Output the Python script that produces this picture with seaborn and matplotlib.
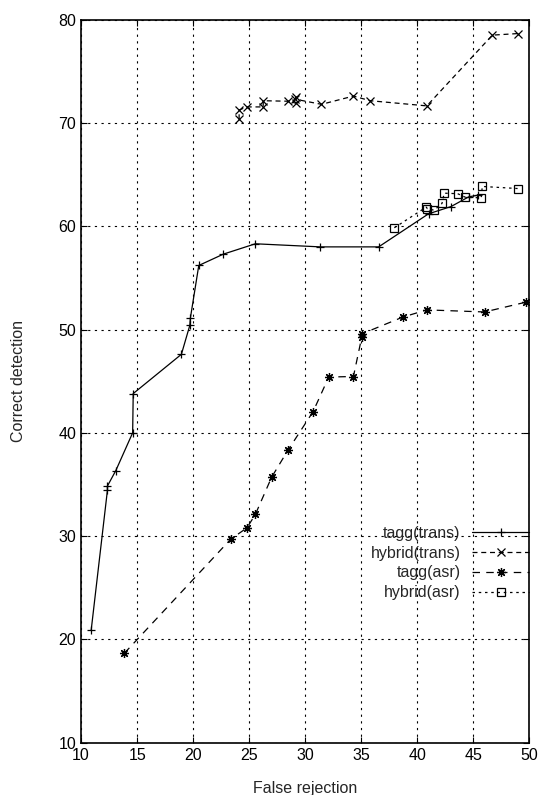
import numpy as np
import pandas as pd
import seaborn as sns
import matplotlib.pyplot as plt

sns.set_style('ticks')
plt.rcParams['font.family'] = ['Liberation Sans', 'DejaVu Sans']
plt.rcParams['font.size'] = 11.5

# data
tagg_trans_x = [10.9, 12.35, 12.35, 13.1, 14.6, 14.65, 18.95, 19.7, 19.75, 20.5, 22.7, 25.55, 31.35, 36.55, 41.0, 43.0, 44.6, 45.4]
tagg_trans_y = [20.9, 34.45, 34.85, 36.35, 40.0, 43.8, 47.6, 50.4, 51.1, 56.2, 57.3, 58.3, 58.0, 58.0, 61.2, 61.9, 62.85, 63.0]

hybrid_trans_x = [24.1, 24.1, 24.8, 26.25, 26.25, 28.5, 29.2, 29.2, 29.1, 31.45, 34.3, 35.8, 40.85, 46.7, 48.95]
hybrid_trans_y = [70.35, 71.25, 71.55, 71.55, 72.15, 72.1, 71.9, 72.5, 72.3, 71.8, 72.6, 72.15, 71.65, 78.5, 78.65]

tagg_asr_x = [13.85, 23.35, 24.8, 25.55, 27.0, 28.45, 30.7, 32.1, 34.3, 35.05, 35.1, 38.7, 40.85, 46.0, 49.7]
tagg_asr_y = [18.65, 29.7, 30.8, 32.1, 35.7, 38.3, 42.05, 45.4, 45.45, 49.3, 49.6, 51.2, 51.9, 51.7, 52.65]

hybrid_asr_x = [37.95, 40.8, 40.9, 41.5, 42.2, 42.4, 43.6, 44.3, 45.7, 45.8, 48.95]
hybrid_asr_y = [59.85, 61.85, 61.7, 61.55, 62.2, 63.2, 63.15, 62.8, 62.75, 63.85, 63.65]

series = [
    ('tagg(trans)', tagg_trans_x, tagg_trans_y, dict(linestyle='-', marker='+', markersize=6)),
    ('hybrid(trans)', hybrid_trans_x, hybrid_trans_y, dict(linestyle=(0, (4, 3)), marker='x', markersize=6)),
    ('tagg(asr)', tagg_asr_x, tagg_asr_y, dict(linestyle=(0, (6, 5)), marker=(8, 2, 0), markersize=6.5)),
    ('hybrid(asr)', hybrid_asr_x, hybrid_asr_y, dict(linestyle=(0, (2, 3)), marker='s', markersize=6, markerfacecolor='none')),
]

fig = plt.figure(figsize=(5.48, 7.95), dpi=100)
ax = fig.add_axes([0.148, 0.0658, 0.818, 0.9095])

for name, xs, ys, style in series:
    sns.lineplot(x=xs, y=ys, ax=ax, color='black', linewidth=0.9, sort=False,
                 estimator=None, errorbar=None, label=name,
                 markeredgecolor='black', markeredgewidth=0.9, **style)

ax.set_xlim(10, 50)
ax.set_ylim(10, 80)
ax.set_xticks(np.arange(10, 51, 5))
ax.set_yticks(np.arange(10, 81, 10))
ax.grid(True, color='black', linestyle=(0, (2, 4)), linewidth=0.8)
ax.tick_params(direction='in', top=True, right=True, length=4, labelsize=11.5, colors='black')
for sp in ax.spines.values():
    sp.set_color('black')
    sp.set_linewidth(1.2)

ax.set_xlabel('False rejection', fontsize=11.5, labelpad=13)
ax.set_ylabel('Correct detection', fontsize=11.5, labelpad=23)

leg = ax.legend(loc='upper right', bbox_to_anchor=(1.0, 0.30), frameon=False, markerfirst=False,
                borderpad=0, borderaxespad=0, handlelength=3.6, handletextpad=0.7,
                labelspacing=0.3, fontsize=11.5)

fig.savefig('out.png', dpi=100)
